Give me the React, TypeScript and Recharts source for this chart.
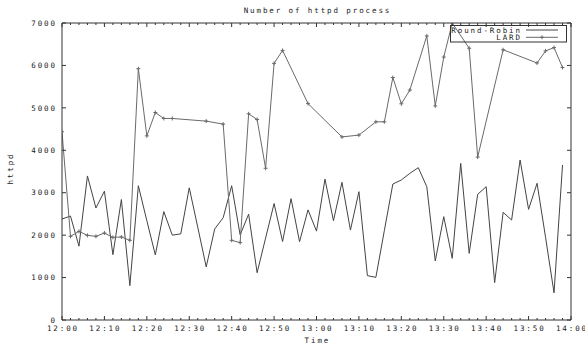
import React from 'react';
import { LineChart, Line, XAxis, YAxis, Legend, Label } from 'recharts';

const FONT = "'DejaVu Sans Mono', 'Liberation Mono', monospace";
const TEXT = '#1a1a1a';
const AXIS = '#333333';
const RR_COLOR = '#444444';
const LARD_COLOR = '#6a6a6a';

// tick positions (minutes after 12:00)
const xTicks = [0, 2, 4, 6, 8, 10, 12, 14, 16, 18, 20, 22, 24, 26, 28, 30, 32, 34, 36, 38, 40, 42, 44, 46, 48, 50, 52, 54, 56, 58, 60, 62, 64, 66, 68, 70, 72, 74, 76, 78, 80, 82, 84, 86, 88, 90, 92, 94, 96, 98, 100, 102, 104, 106, 108, 110, 112, 114, 116, 118, 120];
const yTicks = [0, 1000, 2000, 3000, 4000, 5000, 6000, 7000];

// series names in legend order
const seriesOrder = ['Round-Robin', 'LARD'];

// Round-Robin series
const rrMinutes = [0, 2, 4, 6, 8, 10, 12, 14, 16, 18, 20, 22, 24, 26, 28, 30, 32, 34, 36, 38, 40, 42, 44, 46, 48, 50, 52, 54, 56, 58, 60, 62, 64, 66, 68, 70, 72, 74, 76, 78, 80, 82, 84, 86, 88, 90, 92, 94, 96, 98, 100, 102, 104, 106, 108, 110, 112, 114, 116, 118];
const rrValues = [2380, 2450, 1740, 3395, 2640, 3035, 1540, 2840, 810, 3165, 2340, 1535, 2555, 2000, 2030, 3115, 2190, 1252, 2145, 2410, 3165, 2005, 2495, 1115, 1930, 2745, 1850, 2860, 1846, 2595, 2095, 3320, 2340, 3245, 2120, 3025, 1045, 1005, 2110, 3205, 3300, 3456, 3590, 3142, 1391, 2435, 1453, 3692, 1571, 2961, 3142, 880, 2537, 2357, 3771, 2608, 3222, 1950, 640, 3653];

// LARD series
const lardMinutes = [0, 2, 4, 6, 8, 10, 12, 14, 16, 18, 20, 22, 24, 26, 34, 38, 40, 42, 44, 46, 48, 50, 52, 58, 66, 70, 74, 76, 78, 80, 82, 86, 88, 90, 92, 96, 98, 104, 112, 114, 116, 118];
const lardValues = [4437, 1972, 2089, 1995, 1972, 2050, 1948, 1956, 1878, 5923, 4340, 4890, 4750, 4750, 4687, 4617, 1878, 1823, 4859, 4726, 3576, 6049, 6354, 5100, 4315, 4358, 4671, 4671, 5715, 5096, 5418, 6695, 5046, 6197, 7000, 6405, 3840, 6369, 6057, 6343, 6420, 5950];

const rrData = rrMinutes.map((t, i) => ({ t, v: rrValues[i] }));
const lardData = lardMinutes.map((t, i) => ({ t, v: lardValues[i] }));

const fmtTime = (m: number) => `${12 + Math.floor(m / 60)}:${String(m % 60).padStart(2, '0')}`;

const LS = 1.9;
const textStyle: React.CSSProperties = {
  fontFamily: FONT,
  fontSize: 7.5,
  letterSpacing: `${LS}px`,
  fill: TEXT,
};

const XTick = (props: any) => {
  const { x, y, payload, side } = props;
  const t = payload.value as number;
  const major = t % 10 === 0;
  const len = major ? 4 : 2;
  const dir = side === 'bottom' ? -1 : 1;
  return (
    <g>
      <line x1={x} y1={y} x2={x} y2={y + dir * len} stroke={AXIS} strokeWidth={1} />
      {side === 'bottom' && major && (
        <text x={x + LS / 2} y={y + 11} textAnchor="middle" style={textStyle}>
          {fmtTime(t)}
        </text>
      )}
    </g>
  );
};

const YTick = (props: any) => {
  const { x, y, payload, side } = props;
  const dir = side === 'left' ? 1 : -1;
  return (
    <g>
      <line x1={x} y1={y} x2={x + dir * 4} y2={y} stroke={AXIS} strokeWidth={1} />
      {side === 'left' && (
        <text x={x - 7 + LS} y={y + 2.7} textAnchor="end" style={textStyle}>
          {payload.value}
        </text>
      )}
    </g>
  );
};

const PlusDot = (props: any) => {
  const { cx, cy, stroke } = props;
  if (cx == null || cy == null) return null;
  return (
    <g>
      <line x1={cx - 2} y1={cy} x2={cx + 2} y2={cy} stroke={stroke} strokeWidth={1} />
      <line x1={cx} y1={cy - 2} x2={cx} y2={cy + 2} stroke={stroke} strokeWidth={1} />
    </g>
  );
};

const renderLegend = (props: any) => {
  const payload = ((props.payload || []) as any[]).slice().sort(
    (a: any, b: any) => seriesOrder.indexOf(a.value) - seriesOrder.indexOf(b.value)
  );
  return (
    <svg width={118} height={18} style={{ display: 'block', overflow: 'visible' }}>
      <rect x={0.5} y={0.5} width={116} height={16.5} fill="none" stroke={AXIS} strokeWidth={1} />
      {payload.map((p: any, i: number) => {
        const cy = 5 + i * 7.3;
        return (
          <g key={i}>
            <text x={70 + LS} y={cy + 2.6} textAnchor="end" style={textStyle}>
              {p.value}
            </text>
            <line x1={76} y1={cy} x2={108} y2={cy} stroke={p.color} strokeWidth={1} />
            {p.value === 'LARD' && <PlusDot cx={92} cy={cy} stroke={p.color} />}
          </g>
        );
      })}
    </svg>
  );
};

const TitleLabel = (props: any) => {
  const vb = props.viewBox || { x: 62, y: 22, width: 509, height: 1 };
  return (
    <text x={vb.x + vb.width / 2 + LS / 2} y={vb.y + (vb.height || 0) - 10.3} textAnchor="middle" style={textStyle}>
      Number of httpd process
    </text>
  );
};

const TimeLabel = (props: any) => {
  const vb = props.viewBox || { x: 62, y: 320, width: 509 };
  return (
    <text x={vb.x + vb.width / 2 + LS / 2} y={vb.y + 23.3} textAnchor="middle" style={textStyle}>
      Time
    </text>
  );
};

const HttpdLabel = (props: any) => {
  const vb = props.viewBox || { x: 0, y: 23, width: 62, height: 297 };
  const cx = vb.x + 13.3;
  const cy = vb.y + vb.height / 2 - 2;
  return (
    <text x={cx + LS / 2} y={cy} textAnchor="middle" transform={`rotate(-90, ${cx}, ${cy})`} style={textStyle}>
      httpd
    </text>
  );
};

export default function App() {
  return (
    <div style={{ position: 'absolute', left: 0, top: 0, width: 585, height: 347, background: '#fff' }}>
      <LineChart width={585} height={347} margin={{ top: 22, right: 13, bottom: 0, left: 0 }}>
        <XAxis
          xAxisId="bottom"
          type="number"
          dataKey="t"
          domain={[0, 120]}
          ticks={xTicks}
          interval={0}
          height={27}
          tickSize={0}
          tickMargin={0}
          tickLine={false}
          axisLine={{ stroke: AXIS, strokeWidth: 1 }}
          tick={(p: any) => <XTick {...p} side="bottom" />}
          allowDataOverflow
        >
          <Label content={TimeLabel} />
        </XAxis>
        <XAxis
          xAxisId="top"
          orientation="top"
          type="number"
          dataKey="t"
          domain={[0, 120]}
          ticks={xTicks}
          interval={0}
          height={1}
          tickSize={0}
          tickMargin={0}
          tickLine={false}
          axisLine={{ stroke: AXIS, strokeWidth: 1 }}
          tick={(p: any) => <XTick {...p} side="top" />}
          allowDataOverflow
        >
          <Label content={TitleLabel} />
        </XAxis>
        <YAxis
          yAxisId="left"
          type="number"
          domain={[0, 7000]}
          ticks={yTicks}
          interval={0}
          width={62}
          tickSize={0}
          tickMargin={0}
          tickLine={false}
          axisLine={{ stroke: AXIS, strokeWidth: 1 }}
          tick={(p: any) => <YTick {...p} side="left" />}
          allowDataOverflow
        >
          <Label content={HttpdLabel} />
        </YAxis>
        <YAxis
          yAxisId="right"
          orientation="right"
          type="number"
          domain={[0, 7000]}
          ticks={yTicks}
          interval={0}
          width={1}
          tickSize={0}
          tickMargin={0}
          tickLine={false}
          axisLine={{ stroke: AXIS, strokeWidth: 1 }}
          tick={(p: any) => <YTick {...p} side="right" />}
          allowDataOverflow
        />
        <Legend
          layout="horizontal"
          verticalAlign="middle"
          align="center"
          content={renderLegend}
          wrapperStyle={{ left: 450, top: 25, width: 118, height: 18 }}
        />
        <Line
          xAxisId="bottom"
          yAxisId="left"
          data={rrData}
          dataKey="v"
          name="Round-Robin"
          type="linear"
          stroke={RR_COLOR}
          strokeWidth={1}
          dot={false}
          activeDot={false}
          isAnimationActive={false}
        />
        <Line
          xAxisId="bottom"
          yAxisId="left"
          data={lardData}
          dataKey="v"
          name="LARD"
          type="linear"
          stroke={LARD_COLOR}
          strokeWidth={1}
          dot={(p: any) => <PlusDot key={p.index} cx={p.cx} cy={p.cy} stroke={LARD_COLOR} />}
          activeDot={false}
          isAnimationActive={false}
        />
      </LineChart>
    </div>
  );
}
